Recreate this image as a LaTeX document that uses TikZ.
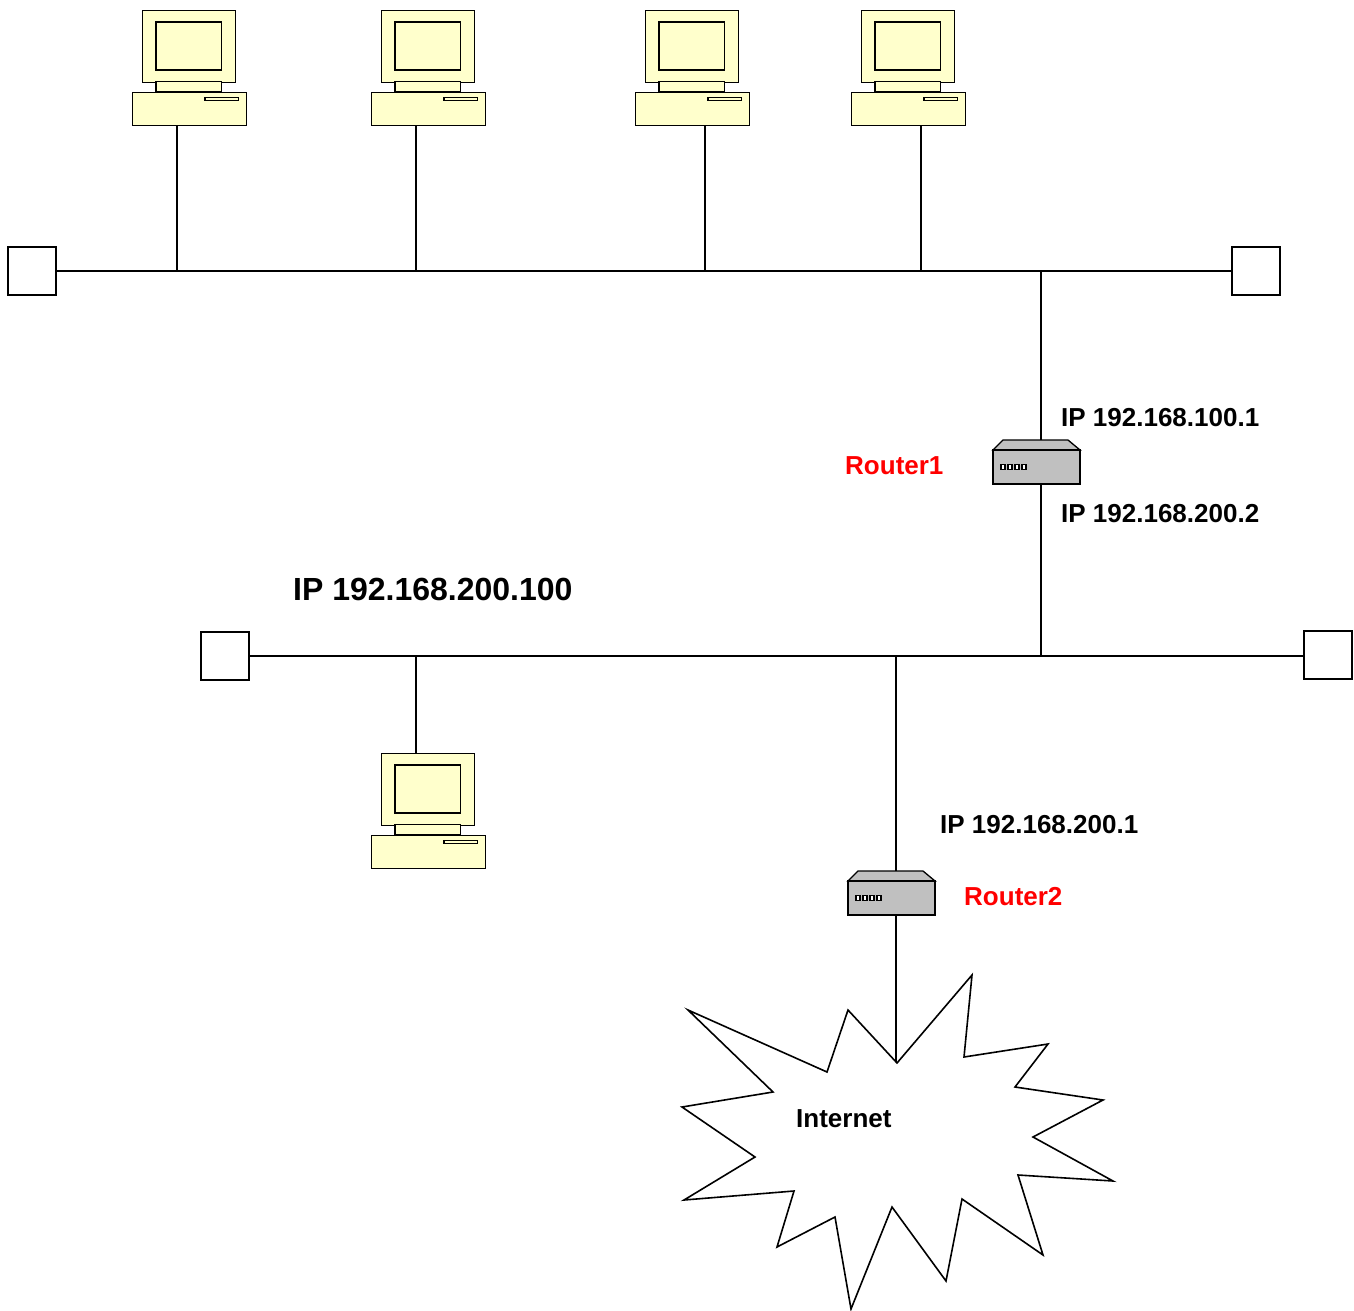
\documentclass[tikz,border=0pt]{standalone}
\usepackage{fontspec}
\setmainfont{Liberation Sans}
\begin{document}
\begin{tikzpicture}[x=1pt,y=-1pt,
  wire/.style={line width=1.6pt},
  pcpart/.style={draw, line width=1.1pt, fill=pcyellow},
  term/.style={draw, line width=1.3pt, fill=white, minimum width=48pt, minimum height=48pt, inner sep=0pt},
  rbody/.style={draw, line width=1.3pt, fill=rgray, minimum width=87pt, minimum height=34pt, inner sep=0pt},
  lbl/.style={font=\fontsize{26}{30}\selectfont\bfseries, anchor=west, inner sep=0pt},
  biglbl/.style={font=\fontsize{32}{36}\selectfont\bfseries, anchor=west, inner sep=0pt},
  redlbl/.style={lbl, text=red},
  computer/.pic={
    \node[pcpart, minimum width=93.3pt, minimum height=71.7pt, inner sep=0pt, anchor=north west] (-mon) at (10,0) {};
    \draw[pcpart] (24.3,12) rectangle (90,60);
    \draw[pcpart] (24.3,71.7) rectangle (90,81.7);
    \node[pcpart, minimum width=114.3pt, minimum height=33.3pt, inner sep=0pt, anchor=north west] (-base) at (0,81.7) {};
    \draw[pcpart] (73.3,87.3) rectangle (106.6,90.7);
  },
  routerpic/.pic={
    \draw[line width=1.3pt, fill=rgray] (-43.5,-17) -- (-33.5,-27) -- (31.5,-27) -- (43.5,-17) -- cycle;
    \node[rbody] (-body) at (0,0) {};
    \foreach \i in {0,1,2,3} {
      \draw[line width=1.4pt, fill=white] (-35.5+\i*7,-2.5) rectangle ++(4,5);
    }
  }
]
\definecolor{pcyellow}{RGB}{255,255,204}
\definecolor{rgray}{RGB}{192,192,192}
\useasboundingbox (0,0) rectangle (1354,1311);

% bus 1
\node[term] (t1l) at (32,271) {};
\node[term] (t1r) at (1256,271) {};
\draw[wire] (t1l.east) -- (t1r.west);
% bus 2
\node[term] (t2l) at (225,656) {};
\node[term] (t2r) at (1328,655) {};
\draw[wire] (t2l.east) -- (t2r.west |- t2l.east);

% taps
\coordinate (a1) at (177,270);
\coordinate (a2) at (416,270);
\coordinate (a3) at (705,270);
\coordinate (a4) at (921,270);
\coordinate (r1top) at (1041,270);
\coordinate (r1bot) at (1041,656);
\coordinate (b1) at (416,656);
\coordinate (r2top) at (896,656);
\coordinate (startop) at (896,1063);

% computers
\pic (pc1) at (131.7,10) {computer};
\pic (pc2) at (370.7,10) {computer};
\pic (pc3) at (634.7,10) {computer};
\pic (pc4) at (850.7,10) {computer};
\pic (pc5) at (370.7,753) {computer};

\draw[wire] (a1) -- (a1 |- pc1-base.south);
\draw[wire] (a2) -- (a2 |- pc2-base.south);
\draw[wire] (a3) -- (a3 |- pc3-base.south);
\draw[wire] (a4) -- (a4 |- pc4-base.south);
\draw[wire] (b1) -- (b1 |- pc5-mon.north);

% router links
\draw[wire] (r1top) -- (r1bot);
\draw[wire] (r2top) -- (startop);

% Internet starburst
\draw[line width=1.6pt, fill=white]
  (688,1010) -- (827,1072) -- (848,1010) -- (897,1063) -- (972,975) -- (964,1057)
  -- (1048,1044) -- (1015,1087) -- (1103,1100) -- (1033,1137) -- (1113,1181)
  -- (1018,1175) -- (1043,1255) -- (962,1199) -- (946,1281) -- (892,1207)
  -- (851,1309) -- (835,1217) -- (777,1247) -- (794,1191) -- (684,1200)
  -- (755,1157) -- (682,1107) -- (773,1092) -- cycle;
\node[lbl] (inet) at (796,1119) {Internet};

% routers
\pic (rt1) at (1036.5,467) {routerpic};
\pic (rt2) at (891.5,898) {routerpic};

% labels
\node[lbl] (ip1) at (1061,418) {IP 192.168.100.1};
\node[redlbl] (rn1) at (845,466) {Router1};
\node[lbl] (ip2) at (1061,514) {IP 192.168.200.2};
\node[biglbl] (ip3) at (293,589) {IP 192.168.200.100};
\node[lbl] (ip4) at (940,825) {IP 192.168.200.1};
\node[redlbl] (rn2) at (964,897) {Router2};
\end{tikzpicture}
\end{document}
